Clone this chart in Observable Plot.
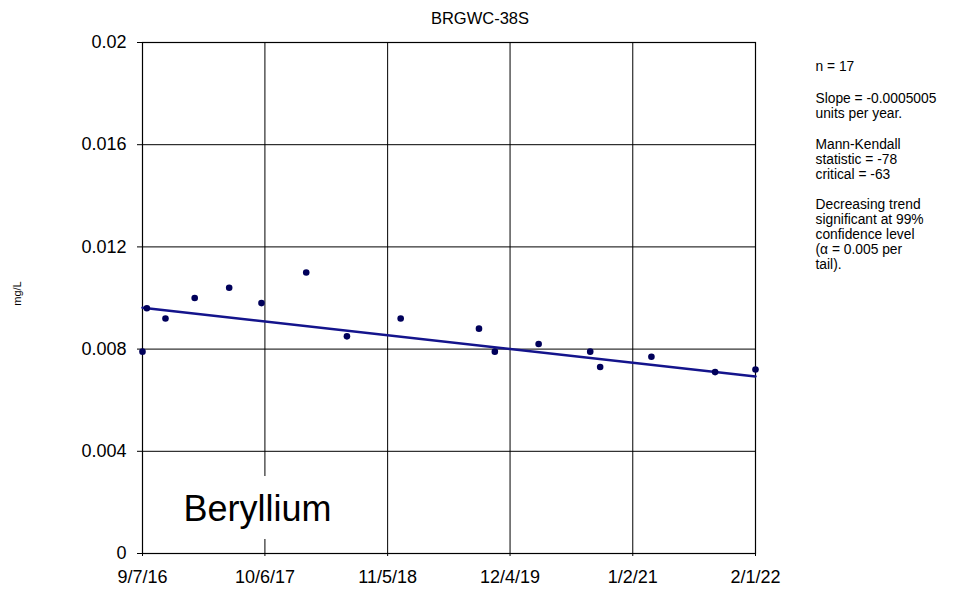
<!DOCTYPE html>
<html>
<head>
<meta charset="utf-8">
<script src="https://cdn.jsdelivr.net/npm/d3@7"></script>
<script src="https://cdn.jsdelivr.net/npm/@observablehq/plot@0.6"></script>
<style>
  html, body { margin: 0; padding: 0; background: white; }
  #chart { width: 959px; height: 589px; }
</style>
</head>
<body>
<div id="chart"></div>
<script>
// ---- Data ----
const chartTitle = "BRGWC-38S";
const analyte = "Beryllium";
const unitLabel = "mg/L";

const sampleDates = ["9/7/16", "9/21/16", "11/20/16", "2/22/17", "6/13/17", "9/25/17", "2/16/18", "6/27/18", "12/17/18", "8/26/19", "10/16/19", "3/5/20", "8/18/20", "9/19/20", "3/3/21", "9/24/21", "2/1/22"];
const sampleValues = [0.0079, 0.0096, 0.0092, 0.0100, 0.0104, 0.0098, 0.0110, 0.0085, 0.0092, 0.0088, 0.0079, 0.0082, 0.0079, 0.0073, 0.0077, 0.0071, 0.0072];

const trendDates = ["9/7/16", "2/1/22"];
const trendValues = [0.00962, 0.00693];

const xTickLabels = ["9/7/16", "10/6/17", "11/5/18", "12/4/19", "1/2/21", "2/1/22"];
const yTicks = [0, 0.004, 0.008, 0.012, 0.016, 0.02];
const yTickLabels = ["0", "0.004", "0.008", "0.012", "0.016", "0.02"];

const statsParagraphs = [
  "n = 17",
  "Slope = -0.0005005\nunits per year.",
  "Mann-Kendall\nstatistic = -78\ncritical = -63",
  "Decreasing trend\nsignificant at 99%\nconfidence level\n(\u03b1 = 0.005 per\ntail)."
];

// ---- Helpers ----
function parseMDY(s) {
  const [m, d, y] = s.split("/").map(Number);
  return new Date(Date.UTC(2000 + y, m - 1, d));
}
const samples = sampleDates.map((d, i) => ({date: parseMDY(d), value: sampleValues[i]}));
const trend = trendDates.map((d, i) => ({date: parseMDY(d), value: trendValues[i]}));
const xTicks = xTickLabels.map(parseMDY);
const xFmt = (d) => {
  const i = xTicks.findIndex(t => +t === +d);
  return i >= 0 ? xTickLabels[i] : "";
};
const yFmt = (d) => {
  const i = yTicks.indexOf(d);
  return i >= 0 ? yTickLabels[i] : "";
};

const font = "'Liberation Sans', Arial, Helvetica, sans-serif";
const paraOffsets = [17.4, 50, 95.7, 155.7];

const chart = Plot.plot({
  width: 959,
  height: 589,
  marginTop: 42,
  marginBottom: 36,
  marginLeft: 142,
  marginRight: 204,
  style: {fontFamily: font, fontSize: "18px", color: "black", background: "white"},
  x: {
    type: "utc",
    domain: [xTicks[0], xTicks[xTicks.length - 1]],
    ticks: xTicks,
    tickFormat: xFmt,
    tickSize: 3,
    tickPadding: 14,
    label: null
  },
  y: {
    domain: [0, 0.02],
    ticks: yTicks,
    tickFormat: yFmt,
    tickSize: 5,
    tickPadding: 11,
    label: null
  },
  marks: [
    Plot.ruleY(yTicks, {stroke: "black", strokeWidth: 1}),
    Plot.ruleX(xTicks, {stroke: "black", strokeWidth: 1}),
    Plot.frame({stroke: "black", strokeWidth: 1.2}),
    Plot.text([analyte], {
      frameAnchor: "bottom-left", textAnchor: "start", lineAnchor: "bottom",
      dx: 41, dy: -33, fontSize: 36, fill: "black",
      stroke: "white", strokeWidth: 36, strokeLinejoin: "round"
    }),
    Plot.line(trend, {x: "date", y: "value", stroke: "#14148c", strokeWidth: 2.5}),
    Plot.dot(samples, {x: "date", y: "value", r: 3.3, fill: "#00005a", stroke: "none"}),
    Plot.text([chartTitle], {
      frameAnchor: "top", textAnchor: "middle", lineAnchor: "bottom",
      dx: 31, dy: -19, fontSize: 16.5, fill: "black"
    }),
    Plot.text([unitLabel], {
      frameAnchor: "left", textAnchor: "middle", lineAnchor: "middle",
      rotate: -90, dx: -125, dy: -4.5, fontSize: 11, fill: "black"
    }),
    ...statsParagraphs.map((p, i) => Plot.text([p], {
      frameAnchor: "top-right", textAnchor: "start", lineAnchor: "top",
      lineHeight: 15 / 13.8, dx: 60, dy: paraOffsets[i], fontSize: 13.8, fill: "black"
    }))
  ]
});

document.getElementById("chart").appendChild(chart);
</script>
</body>
</html>
